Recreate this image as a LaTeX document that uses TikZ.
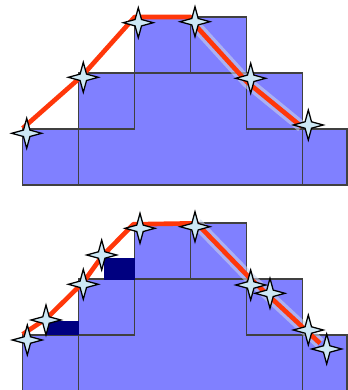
\documentclass[tikz,border=0pt]{standalone}
\usepackage{tikz}
\usetikzlibrary{shapes.geometric}
\definecolor{cellblue}{RGB}{128, 128, 255}
\definecolor{deepnavy}{RGB}{0, 0, 128}
\definecolor{trackred}{RGB}{255, 55, 10}
\definecolor{haze}{RGB}{200, 210, 235}
\definecolor{sparkfill}{RGB}{205, 232, 245}

\begin{document}
\begin{tikzpicture}[x=0.025cm, y=-0.025cm,
    cell/.style={fill=cellblue, draw=black!75, line width=0.9pt},
    block/.style={fill=deepnavy},
    track/.style={trackred, line width=3.3pt, line join=round},
    halo/.style={haze, line width=8pt, opacity=0.6, line join=round},
    sparkle/.style={shape=star, star points=4, star point ratio=3.3,
                    minimum size=0.75cm, inner sep=0pt,
                    fill=sparkfill, draw=black, line width=0.9pt}]
  \useasboundingbox (0,0) rectangle (348,390);

  % ---- Cells (same layout in both panels) ----
  \foreach \dy in {0,206} {
    \begin{scope}[shift={(0,\dy)}]
      \draw[cell] (78.5,73) rectangle (302.5,185);
      \draw[cell] (22.5,129) rectangle (78.5,185);
      \draw[cell] (302.5,129) rectangle (347,185);
      \draw[cell] (78.5,73) rectangle (134.5,129);
      \draw[cell] (246.5,73) rectangle (302.5,129);
      \draw[cell] (134.5,17) rectangle (190.5,73);
      \draw[cell] (190.5,17) rectangle (246.5,73);
    \end{scope}
  }

  % ---- Top panel ----
  \coordinate (a1) at (22.7,128.3);
  \coordinate (a2) at (82,76);
  \coordinate (a3) at (134.7,17);
  \coordinate (a4) at (190.7,17);
  \coordinate (a5) at (196.7,26.7);
  \coordinate (a6) at (246.7,81.7);
  \coordinate (a7) at (301.7,126.7);
  \draw[halo] (a5) -- (a6) -- (a7);
  \draw[track] (a1) -- (a2) -- (a3) -- (a4) -- (a5) -- (a6) -- (a7);
  \node[sparkle] (sa1) at (26.7,133.3) {};
  \node[sparkle] (sa2) at (83.3,77.3) {};
  \node[sparkle] (sa3) at (138.3,22.7) {};
  \node[sparkle] (sa4) at (195,21.7) {};
  \node[sparkle] (sa5) at (250.7,78.3) {};
  \node[sparkle] (sa6) at (308.3,125) {};

  % ---- Bottom panel ----
  \fill[block] (104,258) rectangle (134.5,279.5);
  \fill[block] (47,321) rectangle (78.5,335);
  \coordinate (b1) at (22.7,334.3);
  \coordinate (b2) at (46.7,318.3);
  \coordinate (b3) at (83.3,282.3);
  \coordinate (b4) at (101.7,256.7);
  \coordinate (b5) at (133.3,224.3);
  \coordinate (b6) at (196.7,223.3);
  \coordinate (b7) at (250,278.3);
  \coordinate (b8) at (320,343.3);
  \draw[halo] (b6) -- (b7) -- (b8);
  \draw[track] (b1) -- (b2) -- (b3) -- (b4) -- (b5) -- (b6) -- (b7) -- (b8);
  \node[sparkle] (sb1) at (27.3,340) {};
  \node[sparkle] (sb2) at (46,320) {};
  \node[sparkle] (sb3) at (83.3,284.3) {};
  \node[sparkle] (sb4) at (101.7,255) {};
  \node[sparkle] (sb5) at (140,228.3) {};
  \node[sparkle] (sb6) at (195,226.7) {};
  \node[sparkle] (sb7) at (250.7,285) {};
  \node[sparkle] (sb8) at (270,293.3) {};
  \node[sparkle] (sb9) at (308.3,330) {};
  \node[sparkle] (sb10) at (326.7,349) {};
\end{tikzpicture}
\end{document}
